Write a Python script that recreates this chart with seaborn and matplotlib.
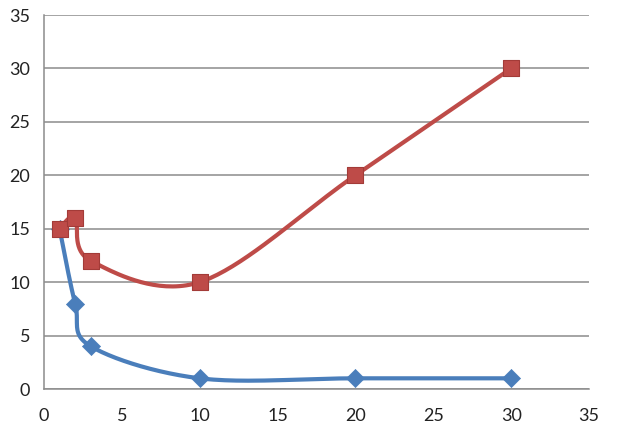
import numpy as np
import pandas as pd
import matplotlib
matplotlib.use("Agg")
import matplotlib.pyplot as plt
import seaborn as sns

x_vals = [1, 2, 3, 10, 20, 30]
blue_vals = [15, 8, 4, 1, 1, 1]
red_vals = [15, 16, 12, 10, 20, 30]

x_ticks = [0, 5, 10, 15, 20, 25, 30, 35]
y_ticks = [0, 5, 10, 15, 20, 25, 30, 35]

BLUE = "#4A7EBB"
RED = "#BE4B48"

# pixel scale per data unit, so the smoothing looks like excel's (done in screen space)
SX = 545 / 35
SY = 374 / 35


def smooth(xs, ys, n=40):
    # catmull-rom style bezier through the points, like excel "smoothed line"
    p = np.column_stack([np.array(xs) * SX, np.array(ys) * SY]).astype(float)
    pts = np.vstack([p[0], p, p[-1]])
    out = []
    for i in range(1, len(pts) - 2):
        p0, p1, p2, p3 = pts[i - 1], pts[i], pts[i + 1], pts[i + 2]
        c1 = p1 + (p2 - p0) / 6
        c2 = p2 - (p3 - p1) / 6
        t = np.linspace(0, 1, n)[:, None]
        seg = ((1 - t) ** 3) * p1 + 3 * ((1 - t) ** 2) * t * c1 + 3 * (1 - t) * t ** 2 * c2 + t ** 3 * p2
        out.append(seg if i == 1 else seg[1:])
    out = np.vstack(out)
    return out[:, 0] / SX, out[:, 1] / SY


sns.set_style("white")
plt.rcParams["font.family"] = ["Lato", "DejaVu Sans"]

fig = plt.figure(figsize=(6.23, 4.33), dpi=100)
ax = fig.add_axes([44 / 623, 44 / 433, 545 / 623, 374 / 433])

bx, by = smooth(x_vals, blue_vals)
rx, ry = smooth(x_vals, red_vals)
curves = pd.DataFrame({"x": np.r_[bx, rx], "y": np.r_[by, ry],
                       "s": ["blue"] * len(bx) + ["red"] * len(rx)})
sns.lineplot(data=curves, x="x", y="y", hue="s", palette={"blue": BLUE, "red": RED},
             sort=False, estimator=None, linewidth=3.0, legend=False, ax=ax)

sns.scatterplot(x=x_vals, y=blue_vals, marker="D", s=85, color=BLUE, edgecolor=BLUE,
                linewidth=0.5, zorder=3, ax=ax)
sns.scatterplot(x=x_vals, y=red_vals, marker="s", s=140, color=RED, edgecolor="#A33B38",
                linewidth=0.8, zorder=3, ax=ax)

ax.set_xlim(0, 35)
ax.set_ylim(0, 35)
ax.set_xticks(x_ticks)
ax.set_yticks(y_ticks)
ax.set_xlabel("")
ax.set_ylabel("")
ax.yaxis.grid(True, color="#8C8C8C", linewidth=1.1)
ax.set_axisbelow(True)
for side in ["top", "right"]:
    ax.spines[side].set_visible(False)
for side in ["left", "bottom"]:
    ax.spines[side].set_color("#8C8C8C")
    ax.spines[side].set_linewidth(1.1)
ax.tick_params(axis="both", direction="out", length=6, width=1.1, color="#8C8C8C",
               labelsize=13, labelcolor="#222222")
ax.tick_params(axis="x", pad=8)
ax.tick_params(axis="y", pad=4)

fig.savefig("out.png", dpi=100)
